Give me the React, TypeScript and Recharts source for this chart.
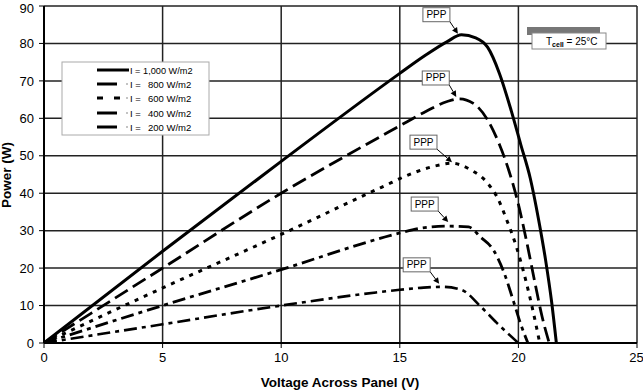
import React from 'react';
import { LineChart, Line, XAxis, YAxis, CartesianGrid, ReferenceDot } from 'recharts';

// voltage (V) / power (W) readings per irradiance level
const v1000 = [0, 5, 10, 15, 16, 17, 17.6, 18.2, 18.7, 19.2, 19.7, 20.1, 20.5, 20.85, 21.15, 21.4, 21.6];
const p1000 = [0, 24.5, 48.5, 72, 76.5, 80.5, 82.3, 81.5, 79, 72, 62, 53, 44, 33, 22, 11, 0];

const v800 = [0, 5, 10, 15, 16, 17, 17.5, 18.1, 18.7, 19.2, 19.6, 20, 20.35, 20.7, 21, 21.3];
const p800 = [0, 20, 40, 58, 61.5, 64.5, 65.2, 64, 59.6, 53, 46, 37, 27, 16, 7, 0];

const v600 = [0, 5, 10, 14.2, 15.6, 16.5, 17.2, 18, 18.7, 19.1, 19.5, 19.9, 20.3, 20.6, 20.9];
const p600 = [0, 14.7, 29, 41.5, 45.5, 47.3, 48, 46.2, 42.7, 39, 33, 26, 17, 9, 0];

const v400 = [0, 5, 10, 14.2, 15, 15.9, 17, 17.9, 18.4, 18.95, 19.4, 19.8, 20.1, 20.4];
const p400 = [0, 10, 19.6, 28, 29.4, 30.7, 31.2, 31, 28.3, 24.8, 18.7, 11, 5, 0];

const v200 = [0, 5, 10, 14, 15, 16, 16.8, 17.6, 18.4, 19.1, 20];
const p200 = [0, 5, 10, 13.5, 14.2, 14.8, 15, 14.2, 9.8, 5.3, 0];

const xTicks = [0, 5, 10, 15, 20, 25];
const yTicks = [0, 10, 20, 30, 40, 50, 60, 70, 80, 90];

const legendLabels = ['1,000 W/m2', '800 W/m2', '600 W/m2', '400 W/m2', '200 W/m2'];

// where each PPP arrow points (V, W)
const pppV = [17.45, 17.38, 17.2, 17.04, 16.66];
const pppP = [82.6, 65.7, 48.3, 32.3, 15.8];
// box corner offsets from arrow tip (px)
const pppOffsets = [[-8, -12], [-7, -12], [-15, -13], [-10, -11], [-9, -12]];

const zip = (vs: number[], ps: number[]) => vs.map((v, i) => ({ v, p: ps[i] }));

const series = [
  { data: zip(v1000, p1000), dash: undefined, width: 3 },
  { data: zip(v800, p800), dash: '15 6', width: 2.8 },
  { data: zip(v600, p600), dash: '4 6', width: 3 },
  { data: zip(v400, p400), dash: '13 5 4 5', width: 2.8 },
  { data: zip(v200, p200), dash: '13 5 4 5', width: 2.6 },
];

const FONT = '"Liberation Sans", Arial, sans-serif';

const PppMark = ({ cx, cy, dx, dy }: { cx: number; cy: number; dx: number; dy: number }) => {
  const bx = cx + dx;
  const by = cy + dy;
  const len = Math.hypot(cx - bx, cy - by);
  const ux = (cx - bx) / len;
  const uy = (cy - by) / len;
  const hx = cx - ux * 6;
  const hy = cy - uy * 6;
  return (
    <g>
      <line x1={bx} y1={by} x2={hx} y2={hy} stroke="#000" strokeWidth={1} />
      <polygon
        points={`${cx},${cy} ${hx - uy * 3},${hy + ux * 3} ${hx + uy * 3},${hy - ux * 3}`}
        fill="#000"
      />
      <rect x={bx - 27} y={by - 14} width={27} height={14} fill="#fff" stroke="#666" strokeWidth={1} />
      <text x={bx - 13.5} y={by - 3.5} textAnchor="middle" fontSize={10} fontFamily={FONT} fill="#000">
        PPP
      </text>
    </g>
  );
};

const legendRowsY = [70, 84, 98, 113, 127];

export default function App() {
  return (
    <div style={{ position: 'absolute', left: 0, top: 0, width: 643, height: 390, background: '#fff' }}>
      <LineChart width={643} height={390} margin={{ top: 6, right: 6, left: 0, bottom: 0 }}>
        <CartesianGrid stroke="#222" strokeWidth={1.5} />
        <XAxis
          dataKey="v"
          type="number"
          domain={[0, 25]}
          ticks={xTicks}
          height={47}
          tickSize={5}
          tickMargin={5}
          axisLine={{ stroke: '#000', strokeWidth: 2 }}
          tickLine={{ stroke: '#000' }}
          tick={{ fill: '#000', fontSize: 13, fontFamily: FONT }}
          allowDataOverflow
        />
        <YAxis
          type="number"
          domain={[0, 90]}
          ticks={yTicks}
          width={44}
          tickSize={5}
          tickMargin={5}
          axisLine={{ stroke: '#000', strokeWidth: 2 }}
          tickLine={{ stroke: '#000' }}
          tick={{ fill: '#000', fontSize: 13, fontFamily: FONT }}
          allowDataOverflow
        />
        {series.map((s, i) => (
          <Line
            key={i}
            data={s.data}
            dataKey="p"
            type="monotone"
            stroke="#000"
            strokeWidth={s.width}
            strokeDasharray={s.dash}
            dot={false}
            activeDot={false}
            isAnimationActive={false}
          />
        ))}
        {pppV.map((v, i) => (
          <ReferenceDot
            key={'ppp' + i}
            x={v}
            y={pppP[i]}
            r={0}
            shape={(props: any) => (
              <PppMark cx={props.cx} cy={props.cy} dx={pppOffsets[i][0]} dy={pppOffsets[i][1]} />
            )}
          />
        ))}
      </LineChart>

      {/* legend, cell temperature box and axis titles */}
      <svg
        width={643}
        height={390}
        style={{ position: 'absolute', left: 0, top: 0, pointerEvents: 'none' }}
        fontFamily={FONT}
      >
        <rect x={62} y={62} width={147} height={73} fill="#fff" stroke="#aaa" strokeWidth={1} />
        {legendLabels.map((lab, i) => {
          const y = legendRowsY[i];
          if (i === 0) {
            return (
              <g key={i}>
                <line x1={97} y1={y} x2={129} y2={y} stroke="#000" strokeWidth={3} />
                <text x={130} y={y + 3.5} fontSize={9.2} fill="#000">
                  I = {lab}
                </text>
              </g>
            );
          }
          return (
            <g key={i}>
              <line
                x1={97}
                y1={y}
                x2={i === 2 ? 121 : 117}
                y2={y}
                stroke="#000"
                strokeWidth={3}
                strokeDasharray={i === 2 ? '6 11' : undefined}
              />
              <rect x={126.5} y={y - 1} width={1} height={2} fill="#888" />
              <text x={130} y={y + 3.5} fontSize={9.5} fill="#000">
                I =
              </text>
              <text x={148} y={y + 3.5} fontSize={9.5} fill="#000">
                {lab}
              </text>
            </g>
          );
        })}

        <rect x={527} y={27} width={73} height={8} fill="#777" />
        <rect x={532} y={33} width={74} height={16} fill="#fff" stroke="#888" strokeWidth={1} />
        <text x={546} y={44.5} fontSize={10} fill="#000">
          T
          <tspan fontSize={7} fontWeight="bold" dy={2}>
            cell
          </tspan>
          <tspan dy={-2}> = 25°C</tspan>
        </text>

        <text x={340} y={387} textAnchor="middle" fontSize={13.5} fontWeight="bold" fill="#000">
          Voltage Across Panel (V)
        </text>
        <text
          transform="translate(11,175) rotate(-90)"
          textAnchor="middle"
          fontSize={13.5}
          fontWeight="bold"
          fill="#000"
        >
          Power (W)
        </text>
      </svg>
    </div>
  );
}
